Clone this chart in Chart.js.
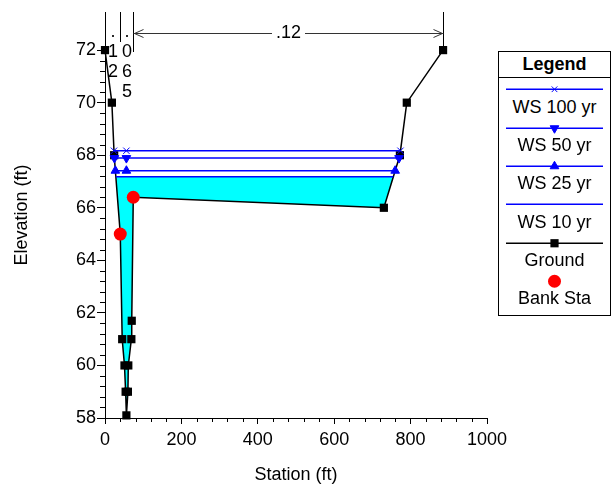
<!DOCTYPE html>
<html>
<head>
<meta charset="utf-8">
<title>Cross Section</title>
<script src="https://cdn.jsdelivr.net/npm/chart.js@4.4.1/dist/chart.umd.min.js"></script>
<style>
  html, body { margin: 0; padding: 0; background: #fff; }
  #wrap { position: relative; width: 613px; height: 486px; overflow: hidden; }
  #legend {
    position: absolute; left: 498px; top: 51px; width: 113px; height: 265px;
    border: 1px solid #000; box-sizing: border-box; background: #fff; color: #000;
    font-family: "Liberation Sans", Arial, sans-serif;
  }
  #legend .title {
    height: 25px; line-height: 24px; border-bottom: 1px solid #000;
    text-align: center; font-weight: bold; font-size: 18px;
  }
  #legend canvas { position: absolute; left: 0; }
  #legend .lbl {
    position: absolute; left: 0; width: 100%; text-align: center;
    font-size: 18px; line-height: 20px; white-space: nowrap;
  }
</style>
</head>
<body>
<div id="wrap">
  <canvas id="xs" width="613" height="486"></canvas>
  <div id="legend"><div class="title">Legend</div></div>
</div>
<script>
// ground profile
const groundSta  = [0, 18, 24, 40, 45, 51, 54, 56, 60, 61, 69, 70, 74, 730, 772, 790, 885];
const groundElev = [72, 70, 68, 65, 61, 60, 59, 58.1, 59, 60, 61, 61.7, 66.4, 66, 68, 70, 72];

// bank stations
const bankSta  = [40, 74];
const bankElev = [65, 66.4];

// water surface profiles
const wsNames = ['WS 100 yr', 'WS 50 yr', 'WS 25 yr', 'WS 10 yr'];
const wsElev  = [68.17, 67.89, 67.41, 67.18];

// Manning's n regions
const nSta = [0, 40, 74, 885];
const nVal = ['.12', '.065', '.12'];

const xTicks = [0, 200, 400, 600, 800, 1000];
const yTicks = [58, 60, 62, 64, 66, 68, 70, 72];

const FONT = '"Liberation Sans", Arial, sans-serif';
Chart.defaults.font.family = FONT;
Chart.defaults.color = '#000';

const wsStyle = [
  { pointStyle: 'crossRot', rotation: 0, radius: 4.5 },
  { pointStyle: 'triangle', rotation: 180, radius: 5 },
  { pointStyle: 'triangle', rotation: 0, radius: 5 },
  { pointStyle: false, rotation: 0, radius: 0 }
];

// where a water level meets the ground on each side
function waterEdges(elev) {
  let left = null, right = null;
  for (let i = 0; i < groundSta.length - 1; i++) {
    const s0 = groundSta[i], s1 = groundSta[i + 1];
    const e0 = groundElev[i], e1 = groundElev[i + 1];
    const at = s0 + (s1 - s0) * (e0 - elev) / (e0 - e1);
    if (left === null && e0 >= elev && e1 < elev) left = at;
    if (e0 < elev && e1 >= elev) right = at;
  }
  return [left, right];
}

const thalweg = groundSta[groundElev.indexOf(Math.min(...groundElev))];

const wsSets = wsNames.map((name, i) => {
  const e = wsElev[i];
  const [l, r] = waterEdges(e);
  const pts = wsStyle[i].pointStyle
    ? [{ x: l, y: e }, { x: thalweg, y: e }, { x: r, y: e }]
    : [{ x: l, y: e }, { x: r, y: e }];
  return {
    label: name,
    data: pts,
    showLine: true,
    borderColor: '#0000ff',
    backgroundColor: '#0000ff',
    borderWidth: 1.5,
    pointStyle: wsStyle[i].pointStyle,
    pointRotation: wsStyle[i].rotation,
    pointRadius: wsStyle[i].radius,
    pointBorderWidth: 1,
    order: 1
  };
});

// wetted area below the lowest profile
const low = wsElev[wsElev.length - 1];
const [wl, wr] = waterEdges(low);
const waterPoly = [{ x: wl, y: low }, { x: wr, y: low }];
for (let i = groundSta.length - 1; i >= 0; i--) {
  if (groundSta[i] > wl && groundSta[i] < wr) waterPoly.push({ x: groundSta[i], y: groundElev[i] });
}

const datasets = [
  ...wsSets,
  {
    label: 'Ground',
    data: groundSta.map((s, i) => ({ x: s, y: groundElev[i] })),
    showLine: true,
    borderColor: '#000',
    backgroundColor: '#000',
    borderWidth: 1.5,
    pointStyle: 'rect',
    pointRadius: 5.8,
    pointBorderWidth: 0,
    order: 2
  },
  {
    label: 'Bank Sta',
    data: bankSta.map((s, i) => ({ x: s, y: bankElev[i] })),
    showLine: false,
    borderColor: '#ff0000',
    backgroundColor: '#ff0000',
    pointStyle: 'circle',
    pointRadius: 6.5,
    pointBorderWidth: 0,
    order: 0
  },
  {
    label: '',
    inLegend: false,
    data: waterPoly,
    showLine: true,
    fill: 'shape',
    backgroundColor: '#00ffff',
    borderWidth: 0,
    pointRadius: 0,
    order: 3
  }
];

// minor ticks and the n-value bands along the top
const sectionMarks = {
  id: 'sectionMarks',
  afterDraw(chart) {
    const { ctx, chartArea: area, scales: { x, y } } = chart;
    const px = v => Math.round(x.getPixelForValue(v)) + 0.5;
    const py = v => Math.round(y.getPixelForValue(v)) + 0.5;
    ctx.save();
    ctx.strokeStyle = '#000';
    ctx.lineWidth = 1;
    ctx.beginPath();
    for (let v = 0; v <= 1000; v += 40) {
      if (v % 200 === 0) continue;
      ctx.moveTo(px(v), area.bottom);
      ctx.lineTo(px(v), area.bottom + 4);
    }
    for (let k = 0; k <= 35; k++) {
      if (k % 5 === 0) continue;
      const v = 58 + k * 0.4;
      ctx.moveTo(area.left, py(v));
      ctx.lineTo(area.left - 5, py(v));
    }
    ctx.stroke();

    // band boundaries
    const drop = [0, 30, 40, 38];
    ctx.beginPath();
    for (let i = 1; i < nSta.length; i++) {
      ctx.moveTo(px(nSta[i]), area.top);
      ctx.lineTo(px(nSta[i]), area.top + drop[i]);
    }
    ctx.stroke();

    ctx.font = '18px ' + FONT;
    ctx.fillStyle = '#000';
    ctx.textAlign = 'center';
    ctx.textBaseline = 'middle';
    const ay = Math.round(area.top + 21) + 0.5;
    for (let j = 0; j < nVal.length; j++) {
      const x0 = px(nSta[j]), x1 = px(nSta[j + 1]);
      const cx = (x0 + x1) / 2;
      const w = ctx.measureText(nVal[j]).width;
      if (x1 - x0 > w + 40) {
        ctx.fillText(nVal[j], cx, ay);
        ctx.strokeStyle = '#333';
        ctx.beginPath();
        ctx.moveTo(x0, ay); ctx.lineTo(cx - w / 2 - 4, ay);
        ctx.moveTo(cx + w / 2 + 4, ay); ctx.lineTo(x1, ay);
        ctx.moveTo(x0 + 10, ay - 4); ctx.lineTo(x0 + 1, ay); ctx.lineTo(x0 + 10, ay + 4);
        ctx.moveTo(x1 - 10, ay - 4); ctx.lineTo(x1 - 1, ay); ctx.lineTo(x1 - 10, ay + 4);
        ctx.stroke();
      } else {
        [...nVal[j]].forEach((ch, k) => ctx.fillText(ch, cx, area.top + 20 + 20 * k));
      }
    }
    ctx.restore();
  }
};

const chart = new Chart(document.getElementById('xs'), {
  type: 'scatter',
  data: { datasets },
  options: {
    responsive: false,
    devicePixelRatio: 1,
    animation: false,
    events: [],
    clip: false,
    layout: { padding: { top: 12, right: 126, left: 0, bottom: 0 } },
    plugins: { legend: { display: false }, tooltip: { enabled: false } },
    scales: {
      x: {
        type: 'linear',
        min: 0,
        max: 1000,
        afterBuildTicks: s => { s.ticks = xTicks.map(v => ({ value: v })); },
        afterFit: s => { s.height = 68; },
        ticks: { color: '#000', font: { size: 18 }, padding: 5, maxRotation: 0, callback: v => String(v) },
        grid: { drawOnChartArea: false, color: '#000', tickLength: 6 },
        border: { color: '#000', width: 1 },
        title: { display: true, text: 'Station (ft)', color: '#000', font: { size: 18 }, padding: 0 }
      },
      y: {
        type: 'linear',
        min: 58,
        max: 73.45,
        afterBuildTicks: s => { s.ticks = yTicks.map(v => ({ value: v })); },
        afterFit: s => { s.width = 105; },
        ticks: { color: '#000', font: { size: 18 }, padding: 1, callback: v => String(v) },
        grid: { drawOnChartArea: false, color: '#000', tickLength: 8 },
        border: { color: '#000', width: 1 },
        title: { display: true, text: 'Elevation (ft)', color: '#000', font: { size: 18 }, padding: { top: 11, bottom: 0 } }
      }
    }
  },
  plugins: [sectionMarks]
});

// legend box: sample line + marker over each name
(function buildLegend() {
  const box = document.getElementById('legend');
  const rows = chart.data.datasets.filter(d => d.inLegend !== false);
  rows.forEach((d, i) => {
    const lineY = 37.3 + i * 38.35;
    const cv = document.createElement('canvas');
    cv.width = 111; cv.height = 16;
    cv.style.top = Math.round(lineY - 8) + 'px';
    box.appendChild(cv);
    const c = cv.getContext('2d');
    if (d.showLine) {
      c.strokeStyle = d.borderColor;
      c.lineWidth = 1.5;
      c.beginPath(); c.moveTo(7, 8.25); c.lineTo(104, 8.25); c.stroke();
    }
    if (d.pointStyle && d.pointRadius > 0) {
      c.fillStyle = d.backgroundColor;
      c.strokeStyle = d.borderColor;
      c.lineWidth = d.pointBorderWidth || 1;
      Chart.helpers.drawPoint(c, {
        pointStyle: d.pointStyle,
        rotation: d.pointRotation || 0,
        radius: d.pointStyle === 'crossRot' ? 4 : d.pointRadius,
        borderWidth: d.pointBorderWidth || 0
      }, 55.5, 8.25);
    }
    const t = document.createElement('div');
    t.className = 'lbl';
    t.style.top = (54.7 + i * 38.35 - 10) + 'px';
    t.textContent = d.label;
    box.appendChild(t);
  });
})();
</script>
</body>
</html>
